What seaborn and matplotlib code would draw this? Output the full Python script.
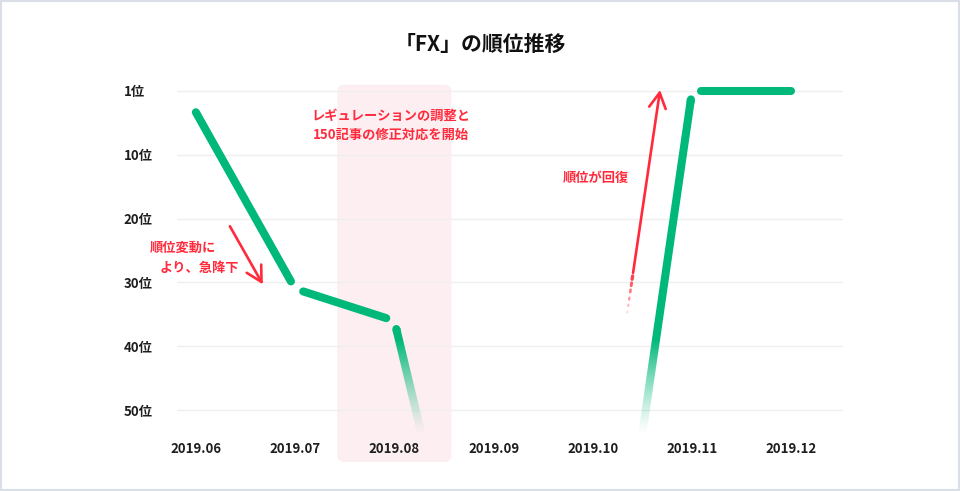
import numpy as np
import pandas as pd
import seaborn as sns
import matplotlib.pyplot as plt
from matplotlib.colors import to_rgb
from matplotlib.patches import FancyBboxPatch, Rectangle, Polygon
from matplotlib.transforms import IdentityTransform

# -------------------------------
# data
# -------------------------------
months = ["2019.06", "2019.07", "2019.08", "2019.09", "2019.10", "2019.11", "2019.12"]
ranks = [4, 31, 36, 101, 107, 1, 1]          # Sep/Oct fell out of the chart (below 50位)
rank_ticks = [1, 10, 20, 30, 40, 50]
rank_labels = ["1位", "10位", "20位", "30位", "40位", "50位"]

title = "「FX」の順位推移"
note_drop = ["順位変動に", "より、急降下"]
note_fix = "レギュレーションの調整と\n150記事の修正対応を開始"
note_up = "順位が回復"
fix_month = "2019.08"

GREEN = "#00b87a"
RED = "#ff2b3d"
PINK = "#fdeef1"
W, H = 960, 491

sns.set_theme(style="white")
plt.rcParams['font.family'] = ['Noto Sans CJK JP', 'DejaVu Sans']

df = pd.DataFrame({"month": months, "rank": ranks})
df["x"] = np.arange(len(df))


# 1位..10位 is drawn with the same spacing as 10位..20位
def fwd(r):
    r = np.asarray(r, dtype=float)
    return np.where(r < 10, (r - 1) * 10 / 9, r)


def inv(p):
    p = np.asarray(p, dtype=float)
    return np.where(p < 10, p * 0.9 + 1, p)


fig = plt.figure(figsize=(W / 100, H / 100), dpi=100)
ax = fig.add_axes([177 / W, 1 - 442 / H, (843 - 177) / W, (442 - 84.6) / H])
ax.set_facecolor("none")
ax.set_yscale("function", functions=(fwd, inv))
ax.set_xlim(-0.19, 6.52)
ax.set_ylim(55, 0.1)

ax.set_yticks(rank_ticks, rank_labels)
ax.set_xticks(df["x"], months)
ax.tick_params(axis="y", length=0, pad=38.5, labelsize=9.5, labelcolor="#1e1e1e")
ax.tick_params(axis="x", length=0, pad=0, labelsize=9.5, labelcolor="#1e1e1e")
for lbl in ax.get_yticklabels():
    lbl.set_ha("left")
    lbl.set_fontweight("bold")
for lbl in ax.get_xticklabels():
    lbl.set_fontweight("bold")
ax.yaxis.grid(True, color="#efefef", lw=1)
ax.xaxis.grid(False)
ax.set_axisbelow(True)
sns.despine(ax=ax, left=True, bottom=True)

# -------------------------------
# highlight band around 2019.08
# -------------------------------
xi = months.index(fix_month)
(bx0, by0), (bx1, _) = ax.transData.transform([[xi - 0.575, 0.12], [xi + 0.575, 1]])
by1 = H - 462
band = FancyBboxPatch((bx0, by1), bx1 - bx0, by0 - by1,
                      boxstyle="round,pad=0,rounding_size=7",
                      transform=IdentityTransform(), fc=PINK, ec="none",
                      zorder=0.2, clip_on=False)
ax.add_patch(band)

# -------------------------------
# rank line (split into segments with small gaps)
# -------------------------------
P = ax.transData.transform(np.column_stack([df["x"], df["rank"]]))
inv_t = ax.transData.inverted()
GAP = 8.5
LW = 5.8
LW_PX = LW * 100 / 72
pairs = [(0, 1), (1, 2), (2, 3), (4, 5), (5, 6)]
fade = {(2, 3), (4, 5)}

# green that fades out towards the bottom of the chart
rows = np.arange(H) + 0.5
row_rank = fwd(inv_t.transform(np.column_stack([np.zeros(H), rows]))[:, 1])
row_alpha = np.clip((54 - row_rank) / (54 - 39), 0, 1) ** 1.3
grad = np.zeros((H, W, 4))
grad[:, :, :3] = to_rgb(GREEN)
grad[:, :, 3] = row_alpha[:, None]

for i, j in pairs:
    a, b = P[i].copy(), P[j].copy()
    d = (b - a) / np.linalg.norm(b - a)
    if i > 0:
        a = a + d * GAP
    if j < len(P) - 1:
        b = b - d * GAP
    if (i, j) not in fade:
        pts = inv_t.transform([a, b])
        sns.lineplot(x=pts[:, 0], y=pts[:, 1], ax=ax, color=GREEN, lw=LW,
                     solid_capstyle="round", estimator=None, sort=False, zorder=3)
        continue
    n = np.array([-d[1], d[0]]) * LW_PX / 2
    stroke = Polygon([a + n, b + n, b - n, a - n], closed=True,
                     transform=IdentityTransform(), fc="none", ec="none")
    fig.add_artist(stroke)
    img = fig.figimage(grad, 0, 0, origin="lower", zorder=1)
    img.set_clip_path(stroke)
    # round cap on the visible end
    end = inv_t.transform([a, a + d * 3]) if (i, j) == (2, 3) else inv_t.transform([b - d * 3, b])
    ax.plot(end[:, 0], end[:, 1], color=GREEN, lw=LW, solid_capstyle="round", zorder=3)

ax.set_xlabel("")
ax.set_ylabel("")

# -------------------------------
# annotations
# -------------------------------
arrow_kw = dict(arrowstyle="->,head_length=1.1,head_width=0.6", color=RED, lw=1.9,
                shrinkA=0, shrinkB=0, mutation_scale=10)
ax.annotate("", xy=(0.675, 30.3), xytext=(0.343, 21.2), arrowprops=arrow_kw, zorder=4)
ax.text(-0.13, 24.6, note_drop[0], color=RED, fontsize=9.5, fontweight="bold",
        ha="center", va="center")
ax.text(0.04, 27.7, note_drop[1], color=RED, fontsize=9.5, fontweight="bold",
        ha="center", va="center")

ax.text(1.97, 5.8, note_fix, color=RED, fontsize=9.5, fontweight="bold",
        ha="center", va="center", linespacing=1.5, zorder=4)

up_tail, up_head = (4.405, 28.5), (4.677, 0.86)
ax.annotate("", xy=up_head, xytext=up_tail, arrowprops=arrow_kw, zorder=4)
# fading dotted tail below the recovery arrow
ta, hb = ax.transData.transform([up_tail, up_head])
du = (hb - ta) / np.linalg.norm(hb - ta)
for k, off in enumerate([3, 10, 17, 25, 32, 39]):
    seg = inv_t.transform([ta - du * off, ta - du * (off + 3.5 - 0.5 * k)])
    ax.plot(seg[:, 0], seg[:, 1], color=RED, alpha=0.9 - 0.14 * k, lw=2.3 - 0.2 * k,
            solid_capstyle="round", zorder=4)
ax.text(4.03, 13.6, note_up, color=RED, fontsize=9.5, fontweight="bold",
        ha="center", va="center")

fig.text(0.5, 1 - 44 / H, title, ha="center", va="center", fontsize=15,
         fontweight="bold", color="#111111")
fig.add_artist(Rectangle((0, 0), 1, 1, transform=fig.transFigure, fill=False,
                         ec="#d9dee7", lw=3))

fig.savefig("out.png", dpi=100)
